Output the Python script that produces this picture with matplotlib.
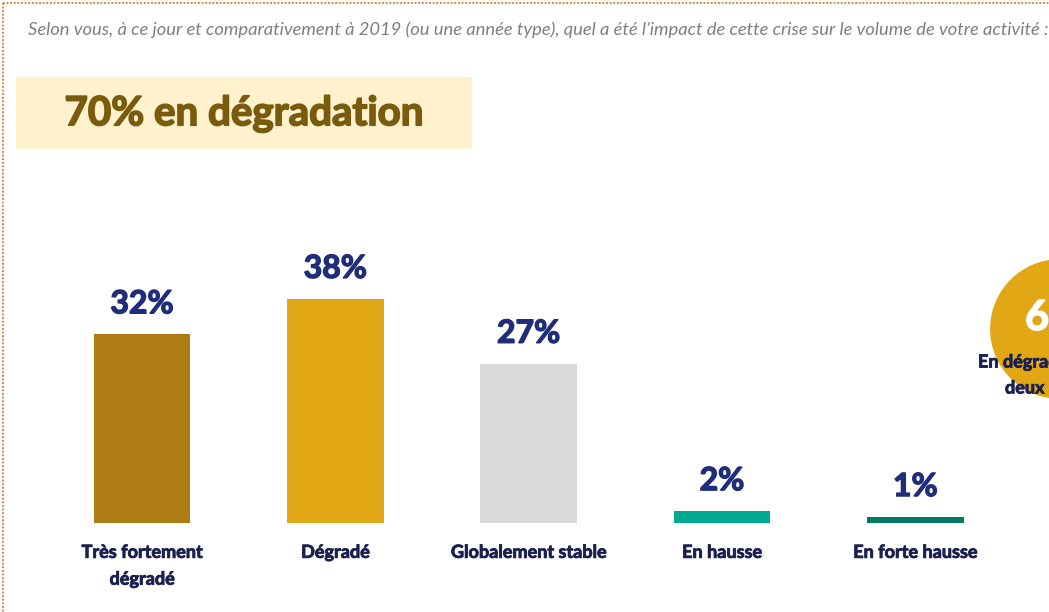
import matplotlib
matplotlib.use('Agg')
import matplotlib.pyplot as plt
import matplotlib.patheffects as pe
from matplotlib.patches import Rectangle, Circle

categories = ['Très fortement\ndégradé', 'Dégradé', 'Globalement stable', 'En hausse', 'En forte hausse']
values = [32, 38, 27, 2, 1]
bar_colors = ['#AD7C12', '#E2A715', '#D9D9D9', '#00A98F', '#007A63']

title_text = '70% en dégradation'
question = ("Selon vous, à ce jour et comparativement à 2019 (ou une année type), "
            "quel a été l\u2019impact de cette crise sur le volume de votre activité :")
bubble_value = '65%'
bubble_line1 = 'En dégradation'
bubble_line2 = 'deux ans'

VALUE_COLOR = '#1F2D7A'
LABEL_COLOR = '#1B2050'
W, H = 1049, 612

plt.rcParams['font.family'] = ['Lato', 'DejaVu Sans']


def heavy(color, w=0.7):
    # thicken the bold glyphs a little, closer to the original heavy font
    return [pe.withStroke(linewidth=w, foreground=color)]


fig = plt.figure(figsize=(W / 100, H / 100), dpi=100)

# background layer in pixel coordinates
bg = fig.add_axes([0, 0, 1, 1])
bg.set_xlim(0, W)
bg.set_ylim(H, 0)
bg.axis('off')

# dotted frame (top and left)
bg.plot([3, W], [3, 3], color='#D9782A', linestyle=(0, (1, 1)), linewidth=1.3)
bg.plot([3, 3], [3, H], color='#D9782A', linestyle=(0, (1, 1)), linewidth=1.3)

bg.text(28, 30, question, fontsize=13.2, style='italic', color='#7F7F7F',
        va='center', ha='left')

bg.add_patch(Rectangle((16, 77), 456, 72, facecolor='#FFF2CC', edgecolor='none'))
bg.text(244, 114, title_text, fontsize=29, fontweight='bold', color='#7A5A0C',
        ha='center', va='center', path_effects=heavy('#7A5A0C', 1.2))

# partly visible bubble on the right
bg.add_patch(Circle((1060, 329), 72, facecolor='#E2A715', edgecolor='white',
                    linewidth=3, zorder=2))
bg.text(1025, 318, bubble_value, fontsize=30, fontweight='bold', color='white',
        ha='left', va='center', zorder=3, path_effects=heavy('white', 1.0))
bg.text(978, 362, bubble_line1, fontsize=13, fontweight='bold', color=LABEL_COLOR,
        ha='left', va='center', zorder=3, path_effects=heavy(LABEL_COLOR, 0.6))
bg.text(1005, 388, bubble_line2, fontsize=13, fontweight='bold', color=LABEL_COLOR,
        ha='left', va='center', zorder=3, path_effects=heavy(LABEL_COLOR, 0.6))

# bar chart
ax = fig.add_axes([45.5 / W, 89 / H, 966.5 / W, 265.3 / H])
x = list(range(len(values)))
ax.bar(x, values, width=0.5, color=bar_colors)
ax.set_xlim(-0.5, len(values) - 0.5)
ax.set_ylim(0, 45)
ax.axis('off')

for i, v in enumerate(values):
    ax.annotate(f'{v}%', xy=(i, v), xytext=(0, 22), textcoords='offset points',
                ha='center', va='center', fontsize=23, fontweight='bold',
                color=VALUE_COLOR, path_effects=heavy(VALUE_COLOR, 1.0))
    ax.annotate(categories[i], xy=(i, 0), xytext=(0, -15), textcoords='offset points',
                ha='center', va='top', fontsize=13, fontweight='bold',
                color=LABEL_COLOR, linespacing=1.7, path_effects=heavy(LABEL_COLOR, 0.6))

fig.savefig('out.png', dpi=100)
